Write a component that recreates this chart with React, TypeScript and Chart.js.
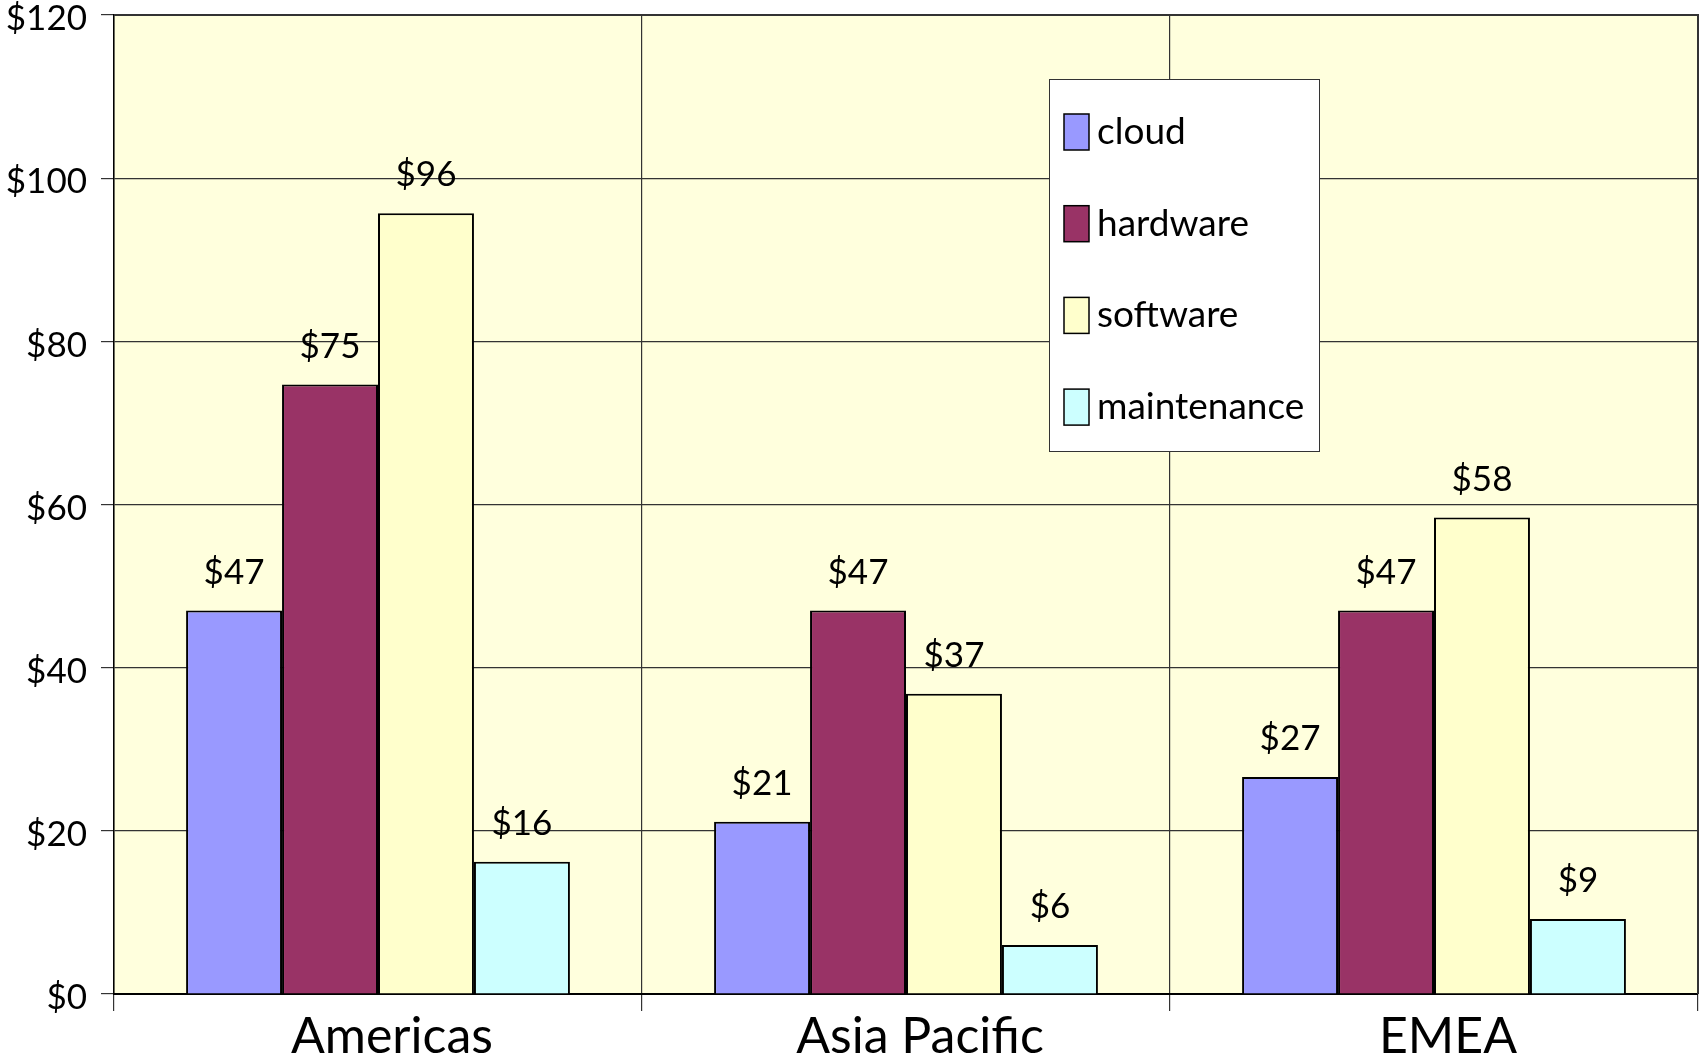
import React, { useEffect, useRef } from "react";
import { Chart, registerables } from "chart.js";

Chart.register(...registerables);

const categories = ["Americas", "Asia Pacific", "EMEA"];
const seriesNames = ["cloud", "hardware", "software", "maintenance"];
const cloud = [47, 21.1, 26.6];
const hardware = [74.7, 47, 47];
const software = [95.7, 36.8, 58.4];
const maintenance = [16.2, 6, 9.2];
const seriesColors = ["#9999FF", "#993366", "#FFFFCC", "#CCFFFF"];
const yMin = 0;
const yMax = 120;
const yStep = 20;

const FONT = "Lato, 'Open Sans', sans-serif";

const plotBg = {
  id: "plotBg",
  beforeDraw(chart: any) {
    const { ctx, chartArea } = chart;
    ctx.save();
    ctx.fillStyle = "#FFFFDD";
    ctx.fillRect(chartArea.left, chartArea.top, chartArea.right - chartArea.left, chartArea.bottom - chartArea.top);
    ctx.restore();
  },
  afterDraw(chart: any) {
    const { ctx, chartArea } = chart;
    ctx.save();
    ctx.strokeStyle = "#333";
    ctx.lineWidth = 2;
    ctx.beginPath();
    ctx.moveTo(chartArea.left, chartArea.top);
    ctx.lineTo(chartArea.right, chartArea.top);
    ctx.lineTo(chartArea.right, chartArea.bottom);
    ctx.stroke();
    ctx.restore();
  },
};

const valueLabels = {
  id: "valueLabels",
  afterDatasetsDraw(chart: any) {
    const { ctx } = chart;
    ctx.save();
    ctx.font = `35px ${FONT}`;
    ctx.fillStyle = "#000";
    ctx.textAlign = "center";
    ctx.textBaseline = "alphabetic";
    chart.data.datasets.forEach((ds: any, i: number) => {
      const meta = chart.getDatasetMeta(i);
      meta.data.forEach((bar: any, j: number) => {
        const v = ds.data[j];
        ctx.fillText("$" + Math.round(v), bar.x, bar.y - 27);
      });
    });
    ctx.restore();
  },
};

const boxLegend = {
  id: "boxLegend",
  afterDraw(chart: any) {
    const { ctx, chartArea } = chart;
    const x0 = chartArea.left + 935;
    const y0 = chartArea.top + 64;
    const w = 270;
    const h = 372;
    ctx.save();
    ctx.fillStyle = "#FFFFFF";
    ctx.fillRect(x0, y0, w, h);
    ctx.strokeStyle = "#333";
    ctx.lineWidth = 1;
    ctx.strokeRect(x0 + 0.5, y0 + 0.5, w, h);
    ctx.font = `37px ${FONT}`;
    ctx.textBaseline = "middle";
    ctx.textAlign = "left";
    chart.data.datasets.forEach((ds: any, i: number) => {
      const cy = y0 + 53 + i * 91.7;
      ctx.fillStyle = ds.backgroundColor;
      ctx.fillRect(x0 + 15, cy - 18, 25, 36);
      ctx.strokeStyle = "#000";
      ctx.lineWidth = 1.5;
      ctx.strokeRect(x0 + 15, cy - 18, 25, 36);
      ctx.fillStyle = "#000";
      ctx.fillText(ds.label, x0 + 48, cy);
    });
    ctx.restore();
  },
};

export default function App() {
  const ref = useRef<HTMLCanvasElement | null>(null);
  useEffect(() => {
    if (!ref.current) return;
    const series = [cloud, hardware, software, maintenance];
    const chart = new Chart(ref.current, {
      type: "bar",
      data: {
        labels: categories,
        datasets: seriesNames.map((name, i) => ({
          label: name,
          data: series[i],
          backgroundColor: seriesColors[i],
          borderColor: "#000",
          borderWidth: 2,
          barPercentage: 1,
          categoryPercentage: 0.727,
        })),
      },
      options: {
        animation: false,
        responsive: true,
        maintainAspectRatio: false,
        layout: { padding: { top: 15, right: 1, left: 0, bottom: 0 } },
        plugins: {
          legend: { display: false },
          tooltip: { enabled: false },
        },
        scales: {
          x: {
            grid: {
              offset: true,
              color: "#333",
              lineWidth: 1.2,
              tickLength: 17,
            },
            border: { color: "#000", width: 2 },
            ticks: {
              color: "#000",
              font: { family: FONT, size: 50 },
              padding: -4,
              labelOffset: 14,
            },
            afterFit(scale: any) {
              scale.height = 66;
              scale.paddingLeft = 0;
              scale.paddingRight = 0;
            },
          },
          y: {
            min: yMin,
            max: yMax,
            ticks: {
              stepSize: yStep,
              color: "#000",
              font: { family: FONT, size: 35 },
              padding: 14,
              labelOffset: 4,
              callback: (v: any) => "$" + v,
            },
            grid: {
              color: "#333",
              lineWidth: 1.2,
              tickLength: 13,
            },
            border: { color: "#000", width: 1.5 },
            afterFit(scale: any) {
              scale.width = 114;
              scale.paddingTop = 0;
              scale.paddingBottom = 0;
            },
          },
        },
      },
      plugins: [plotBg, valueLabels, boxLegend],
    });
    return () => chart.destroy();
  }, []);
  return (
    <div style={{ position: "fixed", left: 0, top: 0, width: 1699, height: 1060, background: "#fff" }}>
      <canvas ref={ref} />
    </div>
  );
}
